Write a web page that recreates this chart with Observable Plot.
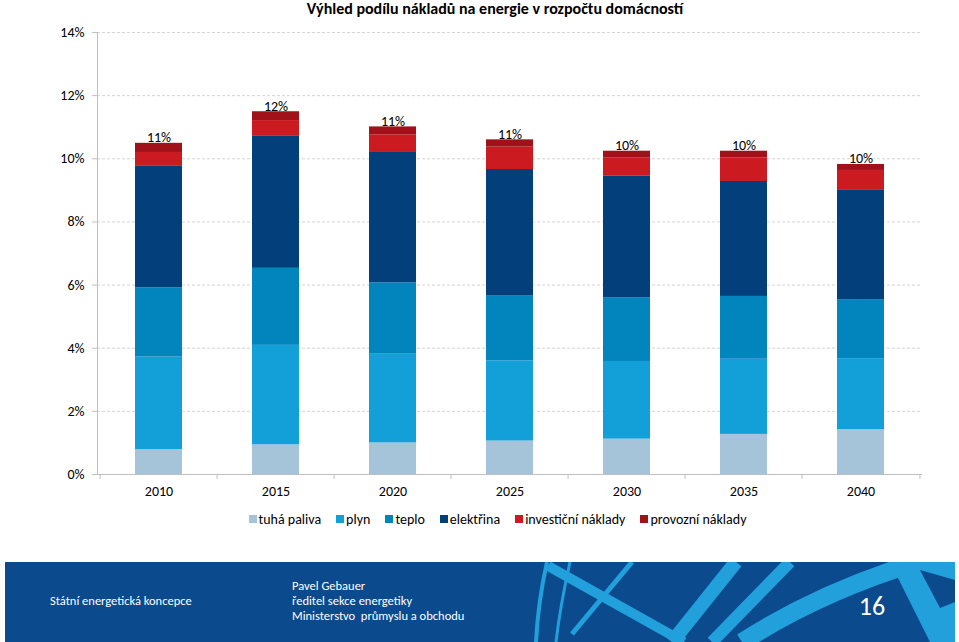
<!DOCTYPE html>
<html>
<head>
<meta charset="utf-8">
<script src="https://cdn.jsdelivr.net/npm/d3@7"></script>
<script src="https://cdn.jsdelivr.net/npm/@observablehq/plot@0.6"></script>
<style>
  html, body { margin: 0; padding: 0; background: #fff; }
  body { width: 959px; height: 642px; position: relative; overflow: hidden;
         font-family: Carlito, Calibri, "Liberation Sans Narrow", "Liberation Sans", sans-serif; }
  #title { position: absolute; left: 0; top: 0; width: 959px; box-sizing: border-box; padding-left: 31px;
           text-align: center; font-weight: bold; font-size: 16px; line-height: 17px; color: #000; }
  #chart { position: absolute; left: 0; top: 16px; }
  #legend { position: absolute; left: 0; top: 510px; width: 959px; box-sizing: border-box; padding-left: 36px;
            display: flex; justify-content: center; }
  #legend div[class*="lg-swatches"] { min-height: 18px !important; margin: 0 !important; }
  #legend .lg-swatch { margin-right: 15px !important; color: #000; }
  #legend .lg-swatch:last-child { margin-right: 0 !important; }
  #legend .lg-swatch > svg { margin-right: 2px !important; }
  #footer { position: absolute; left: 0; top: 562px; }
</style>
</head>
<body>
<div id="chart"></div>
<div id="title">Výhled podílu nákladů na energie v rozpočtu domácností</div>
<div id="legend"></div>
<div id="footer"></div>
<script>
// ---- data (percent of household budget) ----
const years = ["2010", "2015", "2020", "2025", "2030", "2035", "2040"];
const categories = ["tuhá paliva", "plyn", "teplo", "elektřina", "investiční náklady", "provozní náklady"];
const colors = ["#a6c4d9", "#139fd8", "#0284bc", "#023f7b", "#cb1a20", "#a1111a"];
const tuhaPaliva = [0.79, 0.94, 1.00, 1.06, 1.12, 1.27, 1.42];
const plyn       = [2.93, 3.15, 2.81, 2.54, 2.46, 2.38, 2.25];
const teplo      = [2.19, 2.44, 2.26, 2.05, 2.02, 1.99, 1.87];
const elektrina  = [3.85, 4.18, 4.13, 4.01, 3.86, 3.64, 3.48];
const investicni = [0.44, 0.50, 0.56, 0.71, 0.56, 0.75, 0.61];
const provozni   = [0.29, 0.28, 0.25, 0.23, 0.22, 0.21, 0.19];
const totalLabels = ["11%", "12%", "11%", "11%", "10%", "10%", "10%"];
const yTicks = [0, 2, 4, 6, 8, 10, 12, 14];

const series = [tuhaPaliva, plyn, teplo, elektrina, investicni, provozni];
const rows = years.flatMap((yr, i) => categories.map((c, j) => ({year: yr, category: c, value: series[j][i]})));
const totals = years.map((yr, i) => ({year: yr, total: d3.sum(series, s => s[i]), label: totalLabels[i]}));

const font = 'Carlito, Calibri, "Liberation Sans Narrow", "Liberation Sans", sans-serif';
const W = 959, mL = 97, mR = 37;
const step = (W - mL - mR) / years.length;

const chart = Plot.plot({
  width: W, height: 489,
  marginTop: 16, marginBottom: 31, marginLeft: mL, marginRight: mR,
  style: {fontFamily: font, fontSize: "14px", color: "#000", background: "transparent", overflow: "visible"},
  x: {domain: years, paddingInner: 0.6, paddingOuter: 0.3, label: null, axis: null},
  y: {domain: [0, 14], label: null, axis: null},
  color: {domain: categories, range: colors},
  marks: [
    Plot.gridY(yTicks.filter(d => d > 0), {stroke: "#d4d4d4", strokeOpacity: 1, strokeDasharray: "3,2"}),
    Plot.barY(rows, {x: "year", y: "value", fill: "category"}),
    Plot.ruleY([0], {stroke: "#bfbfbf"}),
    Plot.frame({anchor: "left", stroke: "#bfbfbf"}),
    Plot.axisY({ticks: yTicks, tickSize: 5, tickPadding: 8, tickFormat: d => d + "%", stroke: "#bfbfbf", fill: "#000", label: null}),
    Plot.ruleX(years, {x: d => d, y1: 0, y2: -0.16, dx: -step / 2, stroke: "#bfbfbf"}),
    Plot.ruleX(years.slice(-1), {x: d => d, y1: 0, y2: -0.16, dx: step / 2, stroke: "#bfbfbf"}),
    Plot.axisX({tickSize: 0, tickPadding: 12, fill: "#000", label: null}),
    Plot.text(totals, {x: "year", y: "total", text: "label", dy: -1, lineAnchor: "bottom", fill: "#000", fontSize: 14})
  ]
});
document.getElementById("chart").appendChild(chart);

const legend = Plot.legend({
  color: {domain: categories, range: colors},
  legend: "swatches", swatchSize: 8, className: "lg",
  style: {fontFamily: font, fontSize: "14px", color: "#000"}
});
document.getElementById("legend").appendChild(legend);

// ---- footer band (slide decoration) ----
const fsvg = d3.create("svg").attr("width", 959).attr("height", 80);
fsvg.append("rect").attr("x", 5).attr("y", 0).attr("width", 950).attr("height", 80).attr("fill", "#0b4a8d");
const deco = fsvg.append("g").attr("fill", "none").attr("stroke", "#21a0dc");
deco.append("path").attr("d", "M547,0 Q538,40 536,80").attr("stroke-width", 4);
deco.append("path").attr("d", "M570,0 Q560,45 556,80").attr("stroke-width", 3);
deco.append("path").attr("d", "M548,4 L684,80").attr("stroke-width", 10);
deco.append("path").attr("d", "M632,0 L572,72").attr("stroke-width", 5);
deco.append("path").attr("d", "M736,0 L672,80").attr("stroke-width", 14);
deco.append("path").attr("d", "M790,0 L712,80").attr("stroke-width", 12);
deco.append("path").attr("d", "M742,80 Q820,30 918,0").attr("stroke-width", 18);
fsvg.append("path").attr("d", "M890,0 L955,0 L955,80 L930,80 Z").attr("fill", "#21a0dc");
fsvg.append("path").attr("d", "M920,8 L955,18 L955,40 L940,46 Z").attr("fill", "#0b4a8d");
const ft = fsvg.append("g").attr("fill", "#fff").attr("font-family", font).attr("font-size", 12.5);
ft.append("text").attr("x", 50).attr("y", 43).text("Státní energetická koncepce");
ft.append("text").attr("x", 292).attr("y", 28).text("Pavel Gebauer");
ft.append("text").attr("x", 292).attr("y", 43).text("ředitel sekce energetiky");
ft.append("text").attr("x", 292).attr("y", 58).attr("xml:space", "preserve").text("Ministerstvo  průmyslu a obchodu");
ft.append("text").attr("x", 872).attr("y", 53).attr("text-anchor", "middle").attr("font-size", 26).text("16");
document.getElementById("footer").appendChild(fsvg.node());
</script>
</body>
</html>
